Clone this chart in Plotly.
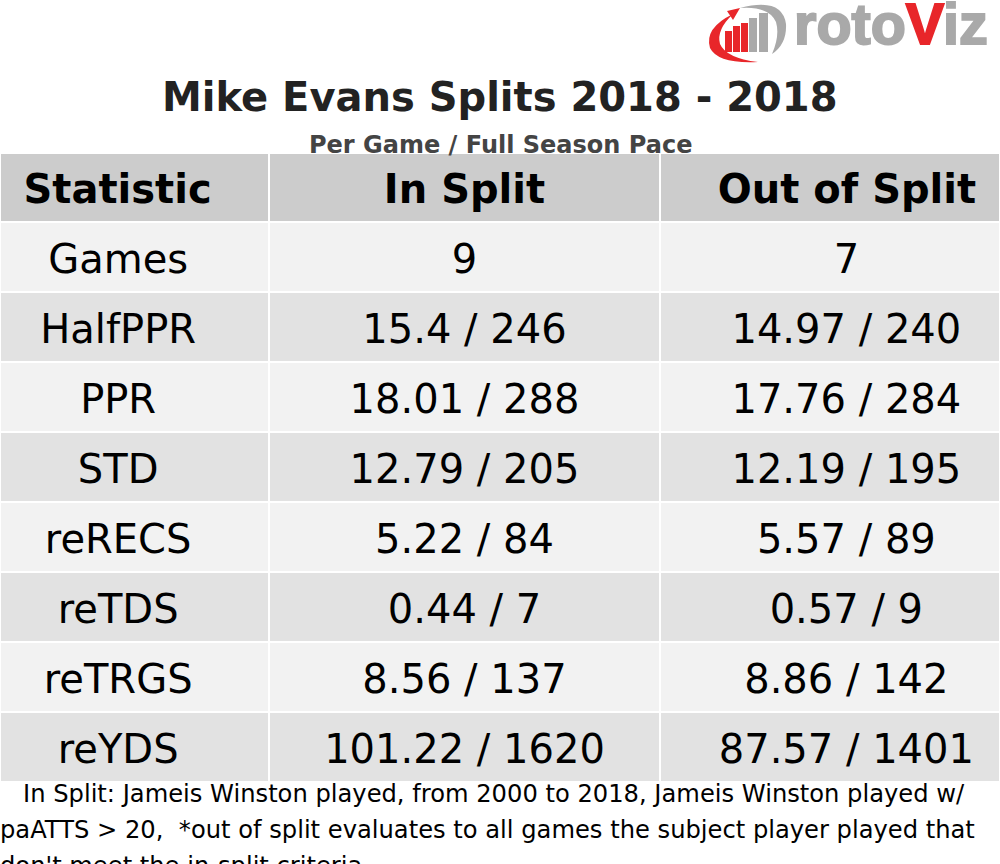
import plotly.graph_objects as go

W, H = 1000, 864

# ---- data ----
statistics = ["Games", "HalfPPR", "PPR", "STD", "reRECS", "reTDS", "reTRGS", "reYDS"]
in_split_per_game = [9, 15.4, 18.01, 12.79, 5.22, 0.44, 8.56, 101.22]
in_split_pace = [None, 246, 288, 205, 84, 7, 137, 1620]
out_split_per_game = [7, 14.97, 17.76, 12.19, 5.57, 0.57, 8.86, 87.57]
out_split_pace = [None, 240, 284, 195, 89, 9, 142, 1401]
header_labels = ["Statistic", "In Split", "Out of Split"]

title_text = "Mike Evans Splits 2018 - 2018"
subtitle_text = "Per Game / Full Season Pace"
footer_lines = [
    "\u00a0\u00a0\u00a0In Split: Jameis Winston played, from 2000 to 2018, Jameis Winston played w/",
    "paATTS > 20,\u00a0\u00a0*out of split evaluates to all games the subject player played that",
    "don't meet the in-split criteria",
]

NB = "\u00a0"


def fmt(pg, pace):
    if pace is None:
        return f"{pg:g}"
    return f"{pg:g}{NB}/{NB}{pace}"


in_text = [fmt(a, b) for a, b in zip(in_split_per_game, in_split_pace)]
out_text = [fmt(a, b) for a, b in zip(out_split_per_game, out_split_pace)]

PAD = "\u2002\u00a0"
# a larger (blank) space on both sides lowers the text's baseline inside its row;
# the trailing <br> keeps plotly's table from word-wrapping the styled span
CELL_SP = "<span style='font-size:46px'>\u00a0</span>"
HEAD_SP = "<span style='font-size:45.5px'>\u00a0</span>"
CELL_FMT = CELL_SP + "{}" + CELL_SP + "<br>"
HEAD_FMT = HEAD_SP + "<b>{}</b>" + HEAD_SP + "<br>"

col1 = [CELL_FMT.format(s + PAD) for s in statistics]
col2 = [CELL_FMT.format(s) for s in in_text]
col3 = [CELL_FMT.format(PAD + s) for s in out_text]
hdr = [header_labels[0] + PAD, header_labels[1].replace(" ", NB), PAD + header_labels[2].replace(" ", NB)]

row_colors = ["#f2f2f2" if i % 2 == 0 else "#e2e2e2" for i in range(len(statistics))]

TABLE_TOP = 153


def px(x):
    return x / W


def py(y):
    return 1 - y / H


fig = go.Figure(
    go.Table(
        domain=dict(x=[0, 1], y=[0, py(TABLE_TOP)]),
        columnwidth=[269, 391, 340],
        header=dict(
            values=[HEAD_FMT.format(h) for h in hdr],
            fill_color="#cccccc",
            line=dict(color="white", width=2),
            align="center",
            height=69,
            font=dict(family="DejaVu Sans", size=40, color="black"),
        ),
        cells=dict(
            values=[col1, col2, col3],
            fill_color=[row_colors] * 3,
            line=dict(color="white", width=2),
            align="center",
            height=69.75,
            font=dict(family="DejaVu Sans", size=40, color="black"),
        ),
    )
)

annotations = [
    dict(text=f"<b>{title_text}</b>", x=0.5, y=py(97), xref="paper", yref="paper",
         xanchor="center", yanchor="middle", showarrow=False,
         font=dict(family="DejaVu Sans", size=40, color="#222222")),
    dict(text=f"<b>{subtitle_text}</b>", x=0.5, y=py(145), xref="paper", yref="paper",
         xanchor="center", yanchor="middle", showarrow=False,
         font=dict(family="DejaVu Sans", size=24, color="#444444")),
]
for i, line in enumerate(footer_lines):
    annotations.append(
        dict(text=line, x=-0.002, y=py(794 + 36 * i), xref="paper", yref="paper",
             xanchor="left", yanchor="middle", showarrow=False, align="left",
             font=dict(family="DejaVu Sans", size=24.2, color="black")))

# logo text
LOGO_GRAY = "#a9a9a9"
LOGO_RED = "#e8262a"
annotations.append(
    dict(text=(f"<b><span style='stroke:{LOGO_GRAY};stroke-width:2px'>roto</span>"
               f"<span style='color:{LOGO_RED};fill:{LOGO_RED};stroke:{LOGO_RED};stroke-width:2px'>V</span>"
               f"<span style='stroke:{LOGO_GRAY};stroke-width:2px'>iz</span></b>"),
         x=px(792), y=py(24),
         xref="paper", yref="paper", xanchor="left", yanchor="middle", showarrow=False,
         font=dict(family="Liberation Sans", size=57.5, color=LOGO_GRAY)))

shapes = []
# logo bars
for (x0, x1, top, col) in [(725, 732, 31, LOGO_RED), (733, 740, 26, LOGO_RED), (741, 748, 23, LOGO_RED),
                           (749, 757, 18, LOGO_GRAY), (759, 768, 13, LOGO_GRAY)]:
    shapes.append(dict(type="rect", xref="paper", yref="paper", x0=px(x0), x1=px(x1),
                       y0=py(52), y1=py(top), fillcolor=col, line=dict(width=0)))
# red swoosh
shapes.append(dict(type="path", xref="paper", yref="paper",
                   path=(f"M {px(733):.4f},{py(14):.4f} Q {px(704):.4f},{py(28):.4f} {px(710):.4f},{py(48):.4f} "
                         f"Q {px(718):.4f},{py(64):.4f} {px(758):.4f},{py(62):.4f} "
                         f"Q {px(726):.4f},{py(58):.4f} {px(720):.4f},{py(44):.4f} "
                         f"Q {px(716):.4f},{py(30):.4f} {px(733):.4f},{py(14):.4f} Z"),
                   fillcolor=LOGO_RED, line=dict(width=0)))
shapes.append(dict(type="path", xref="paper", yref="paper",
                   path=(f"M {px(727):.4f},{py(11):.4f} L {px(740):.4f},{py(8):.4f} L {px(733):.4f},{py(20):.4f} Z"),
                   fillcolor=LOGO_RED, line=dict(width=0)))
# gray swoosh
shapes.append(dict(type="path", xref="paper", yref="paper",
                   path=(f"M {px(740):.4f},{py(8):.4f} Q {px(782):.4f},{py(-3):.4f} {px(786):.4f},{py(24):.4f} "
                         f"Q {px(787):.4f},{py(44):.4f} {px(772):.4f},{py(54):.4f} "
                         f"Q {px(780):.4f},{py(36):.4f} {px(776):.4f},{py(22):.4f} "
                         f"Q {px(769):.4f},{py(6):.4f} {px(740):.4f},{py(8):.4f} Z"),
                   fillcolor=LOGO_GRAY, line=dict(width=0)))

fig.update_layout(
    width=W, height=H,
    margin=dict(l=0, r=0, t=0, b=0),
    paper_bgcolor="white",
    plot_bgcolor="white",
    annotations=annotations,
    shapes=shapes,
)

fig.write_html(
    "out.html",
    config={"displayModeBar": False},
    post_script="document.body.style.margin='0';document.body.style.padding='0';document.body.style.overflow='hidden';",
)
